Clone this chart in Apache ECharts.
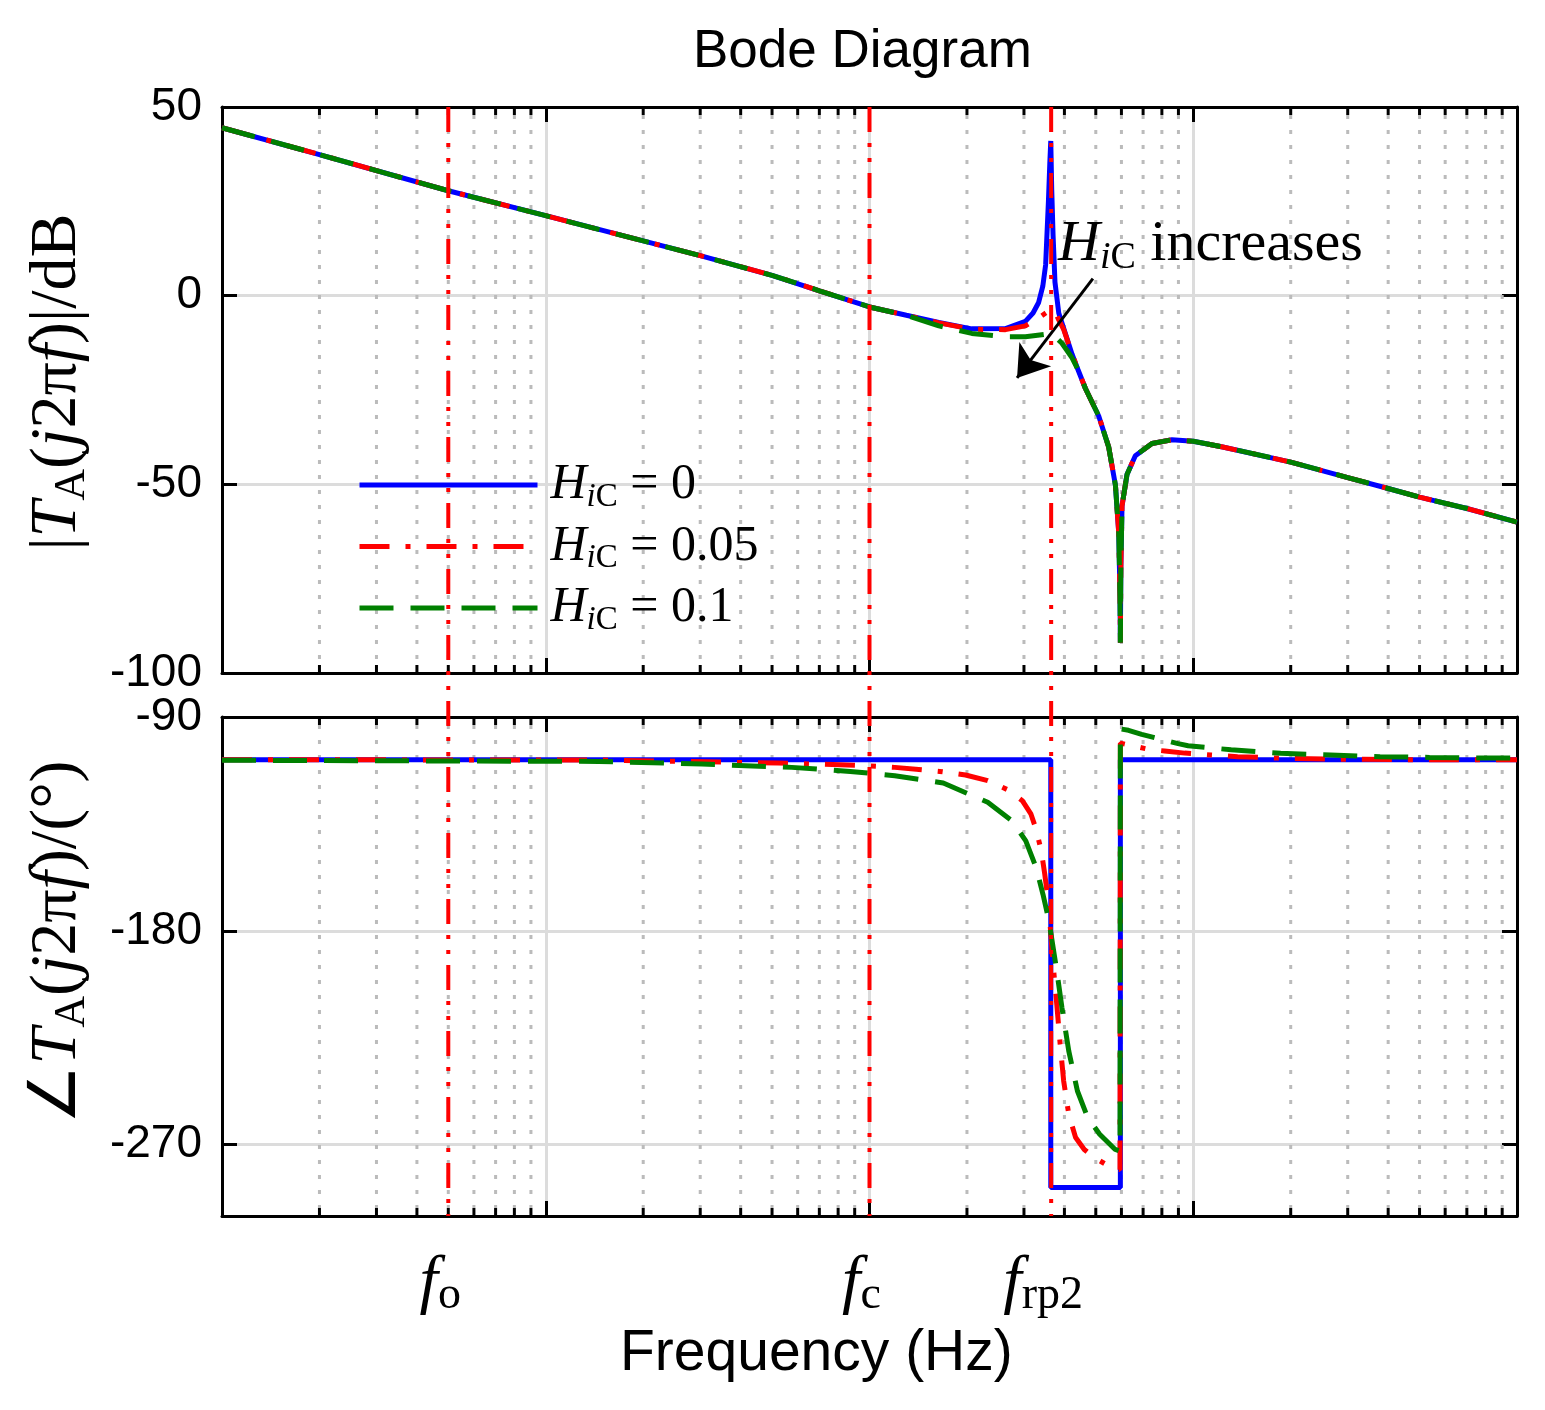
<!DOCTYPE html>
<html>
<head>
<meta charset="utf-8">
<script src="https://cdn.jsdelivr.net/npm/echarts@6.0.0/dist/echarts.min.js"></script>
<style>
html, body { margin: 0; padding: 0; background: #fff; }
#main { width: 1545px; height: 1410px; }
</style>
</head>
<body>
<div id="main"></div>
<script>
/*==================== 数据 ====================*/
var freqRange = [10, 100000];
var magRange = [-100, 50];
var magTicks = [-100, -50, 0, 50];
var phaseRange = [-300, -90];
var phaseTicks = [-270, -180, -90];
var legendValues = ['0', '0.05', '0.1'];
var seriesNames = ['HiC = 0', 'HiC = 0.05', 'HiC = 0.1'];
var markFreqs = [50, 1000, 3640];           // f_o, f_c, f_rp2
var markSubs = ['o', 'c', 'rp2'];
var minorDecades = [10, 100, 1000, 10000];
var minorSteps = [2, 3, 4, 5, 6, 7, 8, 9];

// 幅频 (Hz, dB)
var magLow = [[10, 44.5], [20, 37.4], [50, 27.8], [100, 21.2], [200, 14.5], [300, 10.6],
    [500, 5.4], [700, 1.3], [1000, -3.0], [1300, -5.2]];
var magBlueMid = [[1637, -7.1], [2070, -8.8], [2630, -8.7], [3030, -6.8], [3200, -4.6],
    [3330, -1.8], [3430, 2.5], [3500, 8.2], [3570, 25], [3605, 35], [3630, 41], [3655, 28],
    [3690, 16], [3740, 3.6], [3842, -4.6], [3981, -8.7], [4223, -15.5]];
var magRedMid = [[1637, -7.2], [2070, -8.9], [2630, -9.0], [3030, -8.0], [3330, -5.9],
    [3500, -4.6], [3640, -3.6], [3750, -4.5], [3842, -6.4], [3981, -9.0], [4223, -15.5]];
var magGreenMid = [[1637, -8.0], [2070, -10.0], [2630, -10.9], [3030, -10.9], [3500, -10.2],
    [3640, -10.1], [3740, -10.8], [3930, -12.6], [4080, -14.6], [4223, -16.5]];
var magHigh = [[4400, -19.5], [4645, -24.6], [5105, -31.9], [5480, -40.1], [5749, -50.2],
    [5888, -63], [5940, -80], [5955, -92], [5975, -72], [6026, -55.7], [6242, -47.4],
    [6624, -42.4], [7456, -39.2], [8594, -38.2], [10000, -38.6], [12330, -40.1],
    [20000, -44.1], [30000, -48.2], [40000, -51.1], [50000, -53.4], [70000, -56.4],
    [100000, -60]];

// 相频 (Hz, deg)
var phaseBlue = [[10, -108], [3630, -108], [3630, -288], [5955, -288], [5955, -108], [100000, -108]];
var phaseRed = [[10, -108], [146, -108.1], [263, -108.7], [521, -109.4], [811, -110.1],
    [1010, -110.6], [1197, -111.2], [1648, -112.9], [1980, -114.4], [2318, -116.8],
    [2690, -120.8], [2965, -125.2], [3154, -130.9], [3269, -137.2], [3393, -146.3],
    [3478, -156.1], [3564, -167.4], [3625, -180], [3698, -195.4], [3788, -210.9],
    [3881, -227.7], [3979, -243.2], [4125, -257.2], [4332, -267], [4606, -272],
    [4959, -275.5], [5600, -279.7], [5940, -280.5], [5955, -101], [6388, -101.9],
    [7268, -103.6], [8160, -104.3], [9408, -105.2], [11365, -106], [13710, -106.7],
    [18620, -107.3], [26570, -107.7], [50000, -108], [100000, -108]];
var phaseGreen = [[10, -108.2], [146, -108.7], [304, -109.8], [575, -111.2], [872, -112.9],
    [1197, -114.7], [1690, -117.8], [2318, -125.9], [2755, -133.7], [3039, -142.1],
    [3269, -153.3], [3434, -164.6], [3564, -174.4], [3651, -182.8], [3788, -196.8],
    [3930, -212.3], [4125, -230.5], [4388, -247.4], [4721, -258.6], [5140, -265.6],
    [5740, -272], [5940, -272.7], [5955, -95], [6310, -95.6], [6930, -97.3], [7600, -98.7],
    [8980, -101.2], [9640, -102.1], [13090, -103.8], [18620, -105.3], [26570, -106],
    [37770, -106.7], [53700, -107], [71300, -107.2], [100000, -107.3]];

// 箭头 (Hz, dB)
var arrowFrom = [4898, 4.5];
var arrowTo = [2856, -21.8];

/*==================== 样式 ====================*/
var SERIF = 'Liberation Serif';
var SANS = 'Liberation Sans';
var colors = ['#0000ff', '#ff0000', '#008000'];
var dashes = ['solid', [30, 16, 5, 16], [34, 17]];

var minorFreqs = [];
minorDecades.forEach(function (d) {
    minorSteps.forEach(function (m) { minorFreqs.push(d * m); });
});

var richMath = {
    n: { fontFamily: SERIF, fontSize: 50, color: '#000' },
    i: { fontFamily: SERIF, fontSize: 50, fontStyle: 'italic', color: '#000' },
    si: { fontFamily: SERIF, fontSize: 33, fontStyle: 'italic', color: '#000', padding: [24, 0, 0, 0] },
    sn: { fontFamily: SERIF, fontSize: 33, color: '#000', padding: [24, 0, 0, 0] }
};

function xAxisCfg(grid, pos) {
    return {
        type: 'log', logBase: 10, gridIndex: grid, position: pos,
        min: freqRange[0], max: freqRange[1],
        axisLine: { show: true, onZero: false, lineStyle: { color: '#000', width: 3 } },
        axisTick: { show: true, inside: true, length: 15, lineStyle: { color: '#000', width: 3 } },
        axisLabel: { show: false },
        splitLine: { show: pos === 'bottom', lineStyle: { color: '#dcdcdc', width: 3 } },
        minorTick: { show: false }
    };
}

function yAxisCfg(grid, pos, range, ticks) {
    var cfg = {
        type: 'value', gridIndex: grid, position: pos,
        min: range[0], max: range[1],
        axisLine: { show: true, onZero: false, lineStyle: { color: '#000', width: 3 } },
        axisTick: { show: true, inside: true, length: 15, lineStyle: { color: '#000', width: 3 } },
        axisLabel: {
            show: pos === 'left', margin: 20, color: '#000',
            fontFamily: SANS, fontSize: 46
        },
        splitLine: { show: pos === 'left', lineStyle: { color: '#dcdcdc', width: 3 } }
    };
    if (grid === 0) {
        cfg.interval = 50;
    } else {
        cfg.axisTick.customValues = ticks;
        cfg.axisLabel.customValues = ticks;
    }
    return cfg;
}

function minorGrid(xIdx, yIdx, yVal) {
    return {
        type: 'custom', xAxisIndex: xIdx, yAxisIndex: yIdx, silent: true, z: 1,
        data: minorFreqs.map(function (f) { return [f, yVal]; }),
        renderItem: function (params, api) {
            var cs = params.coordSys;
            var x = api.coord([api.value(0), api.value(1)])[0];
            var top = cs.y, bot = cs.y + cs.height;
            return {
                type: 'group',
                children: [
                    { type: 'line', shape: { x1: x, y1: top + 8, x2: x, y2: bot - 8 },
                      style: { stroke: '#bbbbbb', lineWidth: 3, lineDash: [4, 11] } },
                    { type: 'line', shape: { x1: x, y1: bot, x2: x, y2: bot - 8 },
                      style: { stroke: '#000', lineWidth: 3 } },
                    { type: 'line', shape: { x1: x, y1: top, x2: x, y2: top + 8 },
                      style: { stroke: '#000', lineWidth: 3 } }
                ]
            };
        }
    };
}

function curve(i, xIdx, yIdx, data) {
    return {
        name: seriesNames[i], type: 'line', xAxisIndex: xIdx, yAxisIndex: yIdx,
        data: data, showSymbol: false, symbol: 'none', z: 3 + i,
        lineStyle: { color: colors[i], width: 5, type: dashes[i] },
        itemStyle: { color: colors[i] },
        emphasis: { disabled: true }
    };
}

var magSeries = [
    curve(0, 0, 0, magLow.concat(magBlueMid, magHigh)),
    curve(1, 0, 0, magLow.concat(magRedMid, magHigh)),
    curve(2, 0, 0, magLow.concat(magGreenMid, magHigh))
];
magSeries[0].markLine = {
    silent: true, symbol: ['none', 'arrow'], symbolSize: 30,
    label: { show: false },
    lineStyle: { color: '#000', width: 3, type: 'solid' },
    data: [[{ coord: arrowFrom }, { coord: arrowTo }]]
};

/*==================== echart ====================*/
var chart = echarts.init(document.getElementById('main'));
var option = {
    animation: false,
    backgroundColor: '#fff',
    title: [{
        text: 'Bode Diagram', left: 693, top: 26, padding: 0,
        textStyle: { fontFamily: SANS, fontSize: 53, fontWeight: 'normal', color: '#000' }
    }, {
        text: 'Frequency (Hz)', left: 620, top: 1326, padding: 0,
        textStyle: { fontFamily: SANS, fontSize: 57, fontWeight: 'normal', color: '#000' }
    }],
    legend: {
        orient: 'vertical', left: 357, top: 460, padding: 0,
        itemWidth: 178, itemHeight: 10, itemGap: 8,
        selectedMode: false,
        data: seriesNames,
        itemStyle: { opacity: 0 },
        lineStyle: { width: 5 },
        formatter: function (name) {
            var v = legendValues[seriesNames.indexOf(name)];
            return '{i|H}{si|i}{sn|C}{n| = ' + v + '}';
        },
        textStyle: { rich: richMath, padding: [0, 0, 0, 8] }
    },
    grid: [
        { left: 222, top: 107, width: 1295, height: 566 },
        { left: 222, top: 717, width: 1295, height: 499 }
    ],
    xAxis: [xAxisCfg(0, 'bottom'), xAxisCfg(0, 'top'), xAxisCfg(1, 'bottom'), xAxisCfg(1, 'top')],
    yAxis: [
        yAxisCfg(0, 'left', magRange, magTicks), yAxisCfg(0, 'right', magRange, magTicks),
        yAxisCfg(1, 'left', phaseRange, phaseTicks), yAxisCfg(1, 'right', phaseRange, phaseTicks)
    ],
    series: [minorGrid(0, 0, 0), minorGrid(2, 2, -180)].concat(magSeries, [
        curve(0, 2, 2, phaseBlue),
        curve(1, 2, 2, phaseRed),
        curve(2, 2, 2, phaseGreen)
    ])
};
chart.setOption(option);

/*==================== 标记线/标注 ====================*/
var yTop = chart.convertToPixel({ yAxisIndex: 0 }, magRange[1]);
var yBot = chart.convertToPixel({ yAxisIndex: 2 }, phaseRange[0]);
var graphics = [];
markFreqs.forEach(function (f, i) {
    var x = chart.convertToPixel({ xAxisIndex: 0 }, f);
    graphics.push({
        type: 'line', z: 20, silent: true,
        shape: { x1: x, y1: yTop, x2: x, y2: yBot },
        style: { stroke: '#ff0000', lineWidth: 4, lineDash: [25, 11, 4, 11, 4, 11] }
    });
    graphics.push({
        type: 'text', z: 20, x: x - 8, y: yBot + 68,
        style: {
            text: '{i|f}{s|' + markSubs[i] + '}',
            align: 'center', verticalAlign: 'middle',
            rich: {
                i: { fontFamily: SERIF, fontSize: 66, fontStyle: 'italic', color: '#000' },
                s: { fontFamily: SERIF, fontSize: 46, color: '#000', padding: [24, 0, 0, 0] }
            }
        }
    });
});
var richAxis = {
    n: { fontFamily: SERIF, fontSize: 66, color: '#000' },
    i: { fontFamily: SERIF, fontSize: 66, fontStyle: 'italic', color: '#000' },
    s: { fontFamily: SERIF, fontSize: 44, color: '#000', padding: [28, 0, 0, 0] }
};
graphics.push({
    type: 'text', x: 58, y: 382, rotation: Math.PI / 2,
    style: { text: '{n||}{i|T}{s|A}{n|(}{i|j}{n|2π}{i|f}{n|)|/dB}', align: 'center', verticalAlign: 'middle', rich: richAxis }
});
graphics.push({
    type: 'text', x: 58, y: 942, rotation: Math.PI / 2,
    style: { text: '{n|∠}{i|T}{s|A}{n|(}{i|j}{n|2π}{i|f}{n|)/(°)}', align: 'center', verticalAlign: 'middle', rich: richAxis }
});
graphics.push({
    type: 'text', x: 1058, y: 245, z: 20,
    style: {
        text: '{i|H}{si|i}{sn|C}{n| increases}', align: 'left', verticalAlign: 'middle',
        rich: {
            n: { fontFamily: SERIF, fontSize: 58, color: '#000' },
            i: { fontFamily: SERIF, fontSize: 58, fontStyle: 'italic', color: '#000' },
            si: { fontFamily: SERIF, fontSize: 38, fontStyle: 'italic', color: '#000', padding: [26, 0, 0, 0] },
            sn: { fontFamily: SERIF, fontSize: 38, color: '#000', padding: [26, 0, 0, 0] }
        }
    }
});
chart.setOption({ graphic: graphics });
</script>
</body>
</html>
